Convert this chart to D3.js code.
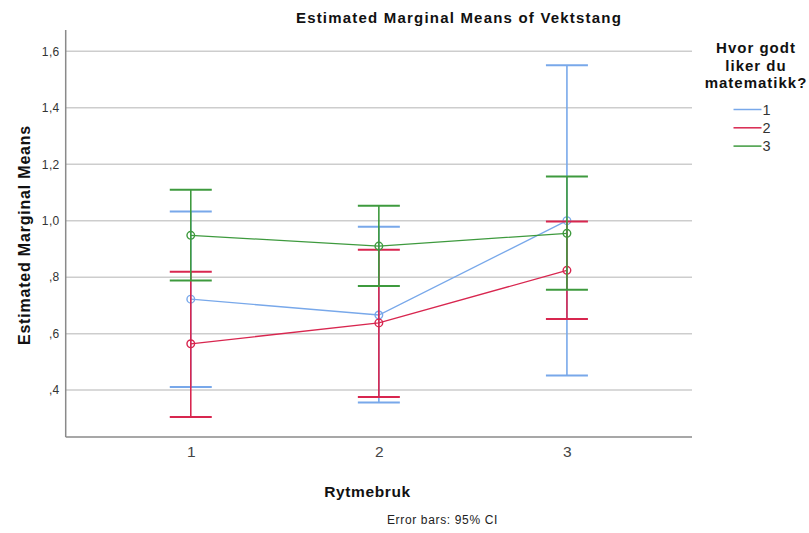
<!DOCTYPE html>
<html>
<head>
<meta charset="utf-8">
<script src="https://cdn.jsdelivr.net/npm/d3@7"></script>
<style>
  body { margin: 0; background: #fff; }
  text { font-family: "Liberation Sans", Arial, sans-serif; }
</style>
</head>
<body>
<div id="chart"></div>
<script>
    // categories on the x axis (Rytmebruk)
    const categories = ["1", "2", "3"];
    // legend groups (Hvor godt liker du matematikk?)
    const groups = ["1", "2", "3"];

    const means1 = [0.722, 0.666, 1.000];
    const lower1 = [0.411, 0.356, 0.452];
    const upper1 = [1.032, 0.978, 1.550];

    const means2 = [0.564, 0.638, 0.824];
    const lower2 = [0.305, 0.376, 0.652];
    const upper2 = [0.819, 0.897, 0.997];

    const means3 = [0.948, 0.910, 0.955];
    const lower3 = [0.788, 0.769, 0.755];
    const upper3 = [1.109, 1.053, 1.156];

    const yTicks = [0.4, 0.6, 0.8, 1.0, 1.2, 1.4, 1.6];
    const yTickLabels = [",4", ",6", ",8", "1,0", "1,2", "1,4", "1,6"];

    const COLORS = ["#78a8ea", "#d8264f", "#3e9a3e"];
    const CAP = 21;
    const R = 3.8;

    var width = 809, height = 533;
    var plotLeft = 65.7, plotRight = 692, plotTop = 30, plotBottom = 437;

    var svg = d3.select("#chart").append("svg")
        .attr("width", width)
        .attr("height", height);

    var x = d3.scalePoint()
        .domain(categories)
        .range([plotLeft, plotRight])
        .padding(0.665);

    var y = d3.scaleLinear()
        .domain([0.234, 1.675])
        .range([plotBottom, plotTop]);

    // gridlines
    svg.append("g")
        .selectAll("line")
        .data(yTicks)
        .enter().append("line")
        .attr("x1", plotLeft)
        .attr("x2", plotRight)
        .attr("y1", d => y(d))
        .attr("y2", d => y(d))
        .attr("stroke", "#cdcdcd")
        .attr("stroke-width", 1.5);

    // y axis
    var yAxis = svg.append("g")
        .attr("transform", `translate(${plotLeft},0)`)
        .call(d3.axisLeft(y).tickValues(yTicks).tickSize(0).tickPadding(6)
            .tickFormat((d, i) => yTickLabels[i]));
    yAxis.select(".domain").remove();
    yAxis.attr("font-family", null).attr("font-size", 12);
    yAxis.selectAll("text")
        .attr("fill", "#333")
        .attr("letter-spacing", 0.4);

    svg.append("line")
        .attr("x1", plotLeft).attr("x2", plotLeft)
        .attr("y1", plotTop).attr("y2", plotBottom)
        .attr("stroke", "#8a8a8a")
        .attr("stroke-width", 1.5);

    // x axis
    var xAxis = svg.append("g")
        .attr("transform", `translate(0,${plotBottom})`)
        .call(d3.axisBottom(x).tickSize(0).tickPadding(9));
    xAxis.select(".domain").remove();
    xAxis.attr("font-family", null).attr("font-size", 15.5);
    xAxis.selectAll("text")
        .attr("fill", "#444");

    svg.append("line")
        .attr("x1", plotLeft).attr("x2", plotRight)
        .attr("y1", plotBottom).attr("y2", plotBottom)
        .attr("stroke", "#8a8a8a")
        .attr("stroke-width", 1.5);

    var series = [
        { means: means1, lower: lower1, upper: upper1 },
        { means: means2, lower: lower2, upper: upper2 },
        { means: means3, lower: lower3, upper: upper3 }
    ];

    var line = d3.line()
        .x((d, i) => x(categories[i]))
        .y(d => y(d));

    series.forEach((s, k) => {
        var g = svg.append("g").attr("stroke", COLORS[k]).attr("fill", "none");
        var rows = categories.map((c, i) => ({ c: c, m: s.means[i], lo: s.lower[i], hi: s.upper[i] }));

        // error bars
        g.selectAll("line.v")
            .data(rows)
            .enter().append("line")
            .attr("class", "v")
            .attr("x1", d => x(d.c)).attr("x2", d => x(d.c))
            .attr("y1", d => y(d.lo)).attr("y2", d => y(d.hi))
            .attr("stroke-width", 1.6);
        g.selectAll("line.hi")
            .data(rows)
            .enter().append("line")
            .attr("class", "hi")
            .attr("x1", d => x(d.c) - CAP).attr("x2", d => x(d.c) + CAP)
            .attr("y1", d => y(d.hi)).attr("y2", d => y(d.hi))
            .attr("stroke-width", 2);
        g.selectAll("line.lo")
            .data(rows)
            .enter().append("line")
            .attr("class", "lo")
            .attr("x1", d => x(d.c) - CAP).attr("x2", d => x(d.c) + CAP)
            .attr("y1", d => y(d.lo)).attr("y2", d => y(d.lo))
            .attr("stroke-width", 2);

        // connecting line
        g.append("path")
            .attr("d", line(s.means))
            .attr("stroke-width", 1.3);

        // markers
        g.selectAll("circle")
            .data(rows)
            .enter().append("circle")
            .attr("cx", d => x(d.c))
            .attr("cy", d => y(d.m))
            .attr("r", R)
            .attr("stroke-width", 1.4);
    });

    // title
    svg.append("text")
        .attr("x", 459).attr("y", 23)
        .attr("text-anchor", "middle")
        .attr("font-size", 15)
        .attr("font-weight", "bold")
        .attr("letter-spacing", 1.2)
        .attr("fill", "#111")
        .text("Estimated Marginal Means of Vektstang");

    // axis titles
    svg.append("text")
        .attr("x", 367.5).attr("y", 497)
        .attr("text-anchor", "middle")
        .attr("font-size", 15.5)
        .attr("font-weight", "bold")
        .attr("letter-spacing", 0.6)
        .attr("fill", "#111")
        .text("Rytmebruk");

    svg.append("text")
        .attr("transform", "translate(30,235) rotate(-90)")
        .attr("text-anchor", "middle")
        .attr("font-size", 16)
        .attr("font-weight", "bold")
        .attr("letter-spacing", 0.8)
        .attr("fill", "#111")
        .text("Estimated Marginal Means");

    svg.append("text")
        .attr("x", 442.5).attr("y", 524)
        .attr("text-anchor", "middle")
        .attr("font-size", 12)
        .attr("letter-spacing", 0.65)
        .attr("fill", "#222")
        .text("Error bars: 95% CI");

    // legend
    var legendTitle = ["Hvor godt", "liker du", "matematikk?"];
    svg.append("g")
        .selectAll("text")
        .data(legendTitle)
        .enter().append("text")
        .attr("x", 756)
        .attr("y", (d, i) => 53 + i * 17.5)
        .attr("text-anchor", "middle")
        .attr("font-size", 15)
        .attr("font-weight", "bold")
        .attr("letter-spacing", 1.0)
        .attr("fill", "#111")
        .text(d => d);

    var legend = svg.append("g")
        .selectAll("g")
        .data(groups)
        .enter().append("g")
        .attr("transform", (d, i) => `translate(0,${109.5 + i * 18.3})`);
    legend.append("line")
        .attr("x1", 733.5).attr("x2", 761.5)
        .attr("y1", 0).attr("y2", 0)
        .attr("stroke", (d, i) => COLORS[i])
        .attr("stroke-width", 1.5);
    legend.append("text")
        .attr("x", 762.5).attr("y", 5)
        .attr("font-size", 14.5)
        .attr("fill", "#333")
        .text(d => d);
</script>
</body>
</html>
